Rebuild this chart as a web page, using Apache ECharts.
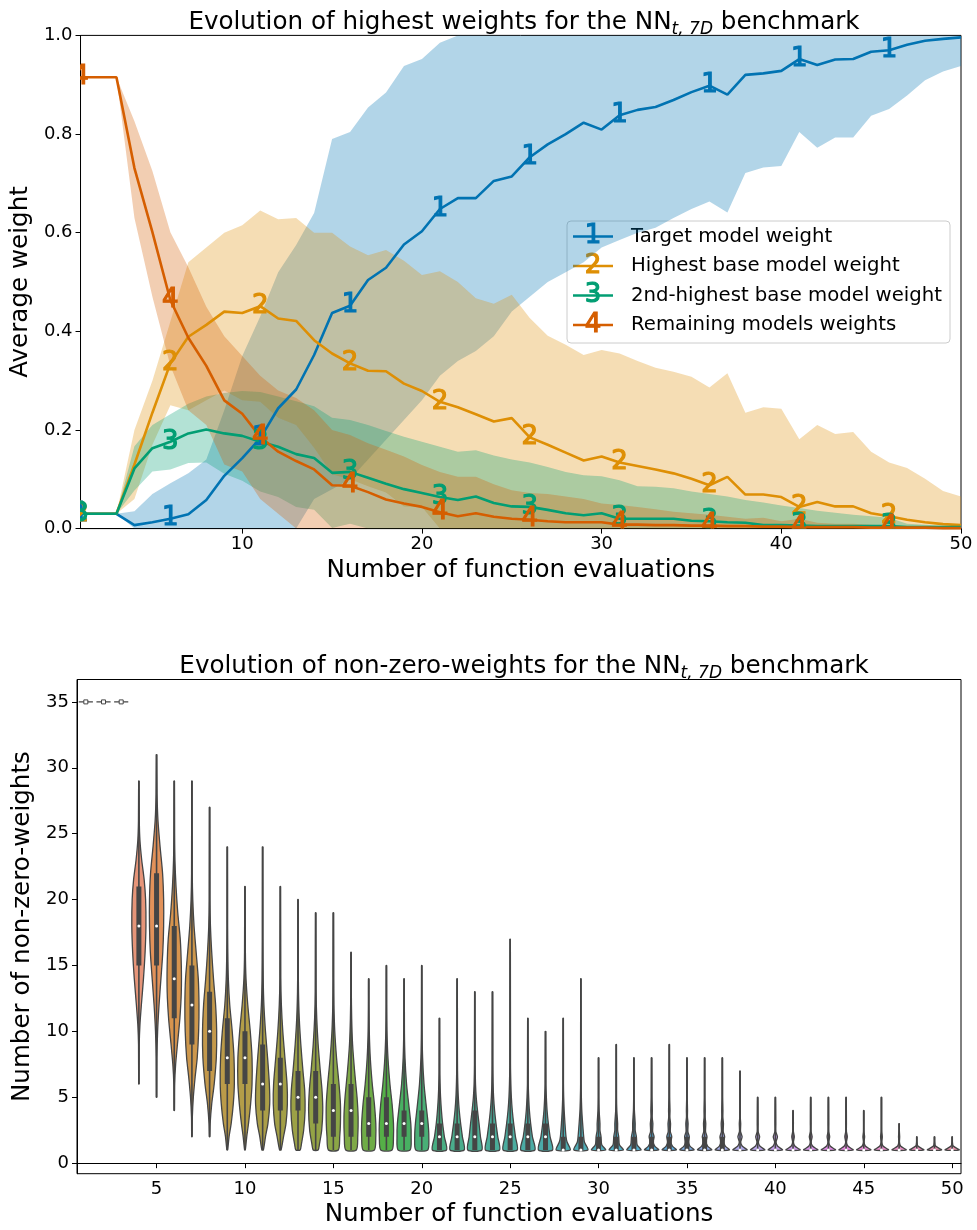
<!DOCTYPE html>
<html><head><meta charset="utf-8">
<script src="https://cdn.jsdelivr.net/npm/echarts@6/dist/echarts.min.js"></script>
<style>html,body{margin:0;padding:0;background:#fff}#c{width:977px;height:1230px}</style>
</head><body><div id="c"></div>
<script>
// ---------- DATA ----------
const evals = [1,2,3,4,5,6,7,8,9,10,11,12,13,14,15,16,17,18,19,20,21,22,23,24,25,26,27,28,29,30,31,32,33,34,35,36,37,38,39,40,41,42,43,44,45,46,47,48,49,50];
const xTicks = [10,20,30,40,50];
const yTicksTop = [0,0.2,0.4,0.6,0.8,1.0];
const yTicksBottom = [0,5,10,15,20,25,30,35];
const seriesNames = ['Target model weight','Highest base model weight','2nd-highest base model weight','Remaining models weights'];
const seriesDigits = ['1','2','3','4'];

const targetMean = [0.03,0.03,0.03,0.007,0.013,0.02,0.029,0.058,0.107,0.143,0.183,0.244,0.282,0.352,0.437,0.452,0.504,0.529,0.576,0.603,0.648,0.670,0.670,0.705,0.714,0.753,0.779,0.800,0.823,0.809,0.838,0.849,0.855,0.869,0.885,0.898,0.880,0.920,0.923,0.928,0.952,0.940,0.951,0.952,0.967,0.970,0.981,0.989,0.993,0.996];
const targetLow = [0.03,0.03,0.03,0,0,0,0,0,0,0,0,0,0,0.06,0.08,0.10,0.14,0.18,0.22,0.26,0.31,0.34,0.36,0.39,0.44,0.47,0.50,0.52,0.54,0.57,0.585,0.60,0.61,0.63,0.648,0.663,0.641,0.721,0.732,0.735,0.804,0.772,0.793,0.793,0.837,0.851,0.878,0.909,0.927,0.938];
const targetHigh = [0.03,0.03,0.03,0.035,0.07,0.092,0.112,0.14,0.24,0.35,0.43,0.52,0.575,0.64,0.79,0.804,0.854,0.884,0.938,0.952,0.985,1,1,1,1,1,1,1,1,1,1,1,1,1,1,1,1,1,1,1,1,1,1,1,1,1,1,1,1,1];

const highestMean = [0.03,0.03,0.03,0.13,0.235,0.335,0.389,0.413,0.44,0.437,0.451,0.426,0.421,0.382,0.355,0.335,0.32,0.319,0.294,0.279,0.257,0.246,0.232,0.217,0.224,0.185,0.170,0.154,0.138,0.146,0.134,0.127,0.120,0.112,0.101,0.088,0.105,0.069,0.069,0.064,0.044,0.054,0.045,0.045,0.031,0.025,0.018,0.013,0.009,0.007];
const highestLow = [0.03,0.03,0.03,0.06,0.17,0.25,0.24,0.26,0.28,0.26,0.257,0.225,0.21,0.164,0.11,0.10,0.086,0.073,0.045,0.044,0,0,0,0,0,0,0,0,0,0,0,0,0,0,0,0,0,0,0,0,0,0,0,0,0,0,0,0,0,0];
const highestHigh = [0.03,0.03,0.03,0.20,0.30,0.42,0.54,0.57,0.60,0.615,0.645,0.627,0.63,0.60,0.60,0.572,0.554,0.565,0.543,0.514,0.522,0.50,0.467,0.456,0.474,0.427,0.391,0.373,0.352,0.362,0.355,0.340,0.326,0.318,0.308,0.286,0.315,0.235,0.246,0.243,0.181,0.21,0.192,0.196,0.156,0.134,0.123,0.101,0.076,0.065];

const secondMean = [0.03,0.03,0.03,0.122,0.163,0.176,0.193,0.201,0.193,0.188,0.176,0.166,0.151,0.143,0.113,0.115,0.103,0.091,0.08,0.072,0.064,0.058,0.065,0.052,0.045,0.044,0.038,0.031,0.027,0.031,0.020,0.020,0.020,0.020,0.016,0.015,0.013,0.012,0.007,0.007,0.006,0.005,0.005,0.005,0.005,0.005,0.003,0.003,0.003,0.003];
const secondLow = [0.03,0.03,0.03,0.077,0.116,0.12,0.133,0.134,0.111,0.097,0.075,0.064,0.044,0.038,0.001,0.01,0,0,0,0,0,0,0,0,0,0,0,0,0,0,0,0,0,0,0,0,0,0,0,0,0,0,0,0,0,0,0,0,0,0];
const secondHigh = [0.03,0.03,0.03,0.167,0.21,0.232,0.253,0.268,0.275,0.279,0.277,0.268,0.258,0.248,0.225,0.22,0.21,0.198,0.186,0.176,0.166,0.156,0.159,0.148,0.14,0.134,0.125,0.115,0.108,0.106,0.098,0.086,0.085,0.082,0.075,0.070,0.065,0.058,0.053,0.047,0.042,0.036,0.032,0.028,0.025,0.022,0.01,0.008,0.006,0.005];

const remainingMean = [0.915,0.915,0.915,0.731,0.601,0.463,0.387,0.33,0.26,0.233,0.186,0.156,0.137,0.12,0.088,0.087,0.074,0.059,0.051,0.044,0.033,0.025,0.031,0.024,0.02,0.018,0.015,0.013,0.013,0.013,0.008,0.008,0.007,0.007,0.006,0.006,0.005,0.005,0.004,0.004,0.003,0.003,0.003,0.003,0.002,0.002,0.002,0.002,0.001,0.001];
const remainingLow = [0.915,0.915,0.915,0.63,0.47,0.33,0.24,0.21,0.13,0.116,0.06,0.03,0,0,0,0,0,0,0,0,0,0,0,0,0,0,0,0,0,0,0,0,0,0,0,0,0,0,0,0,0,0,0,0,0,0,0,0,0,0];
const remainingHigh = [0.915,0.915,0.915,0.826,0.725,0.601,0.53,0.45,0.39,0.35,0.31,0.28,0.265,0.24,0.20,0.19,0.173,0.16,0.146,0.129,0.115,0.105,0.105,0.09,0.078,0.072,0.07,0.065,0.06,0.051,0.048,0.044,0.039,0.034,0.031,0.028,0.024,0.02,0.022,0.015,0.02,0.012,0.01,0.01,0.008,0.006,0.004,0.003,0.002,0.002];

// violin statistics per evaluation count
const violinMin = [35,35,35,6,5,4,2,2,1,1,1,1,1,1,1,1,1,1,1,1,1,1,1,1,1,1,1,1,1,1,1,1,1,1,1,1,1,1,1,1,1,1,1,1,1,1,1,1,1,1];
const violinQ1  = [35,35,35,15,15,11,9,7,6,6,4,4,4,3,2,2,2,2,2,2,1,1,1,1,1,1,1,1,1,1,1,1,1,1,1,1,1,1,1,1,1,1,1,1,1,1,1,1,1,1];
const violinMed = [35,35,35,18,18,14,12,10,8,8,6,6,5,5,4,4,3,3,3,3,2,2,2,2,2,2,2,1,1,1,1,1,1,1,1,1,1,1,1,1,1,1,1,1,1,1,1,1,1,1];
const violinQ3  = [35,35,35,21,22,18,15,13,11,10,9,8,7,7,6,6,5,5,4,4,3,3,4,3,3,3,3,2,2,2,2,2,2,2,2,2,2,1,1,1,1,1,1,1,1,1,1,1,1,1];
const violinMax = [35,35,35,29,31,29,29,27,24,21,24,21,20,19,19,16,14,15,14,15,11,14,13,13,17,11,10,11,14,8,9,8,8,9,8,8,8,7,5,5,4,5,5,5,4,5,3,2,2,2];
// density profile: [value, relative half-width]
const violinShapes = [
 null,null,null,
 [[6,.03],[9,.05],[10.5,.15],[12,.35],[14,.65],[16,.88],[18,1],[20,.95],[21.5,.75],[23,.4],[24.5,.15],[26,.06],[29,.03]],
 [[5,.03],[8,.05],[10,.15],[12,.35],[14,.62],[16,.88],[18,1],[20,1],[22,.85],[24,.5],[26,.2],[28,.07],[31,.03]],
 [[4,.03],[6,.06],[7.5,.2],[9,.45],[11,.8],[13,1],[15,1],[17,.85],[19,.5],[21,.25],[23,.1],[25,.05],[29,.03]],
 [[2,.03],[3.5,.06],[5,.2],[6.5,.45],[8,.75],[10,.95],[12,1],[14,.9],[16,.6],[18,.3],[20,.12],[22,.05],[29,.03]],
 [[2,.03],[3,.08],[4.5,.3],[6,.65],[8,.95],[10,1],[12,.85],[14,.55],[16,.3],[18,.12],[20,.05],[27,.03]],
 [[1,.05],[2,.25],[3,.55],[4.5,.85],[6,1],[8,.95],[10,.7],[12,.35],[14,.15],[16,.07],[18,.04],[24,.03]],
 [[1,.05],[2,.25],[3,.5],[4.5,.8],[6,1],[8,1],[10,.75],[12,.4],[14,.15],[16,.06],[21,.03]],
 [[1,.1],[2,.4],[3,.75],[4.5,1],[6,.95],[8,.7],[10,.4],[12,.18],[14,.08],[17,.04],[24,.03]],
 [[1,.1],[2,.45],[3,.8],[4.5,1],[6,.95],[8,.65],[10,.35],[12,.15],[14,.06],[21,.03]],
 [[1,.3],[1.5,.5],[2.5,.8],[4,1],[5.5,.95],[7,.7],[9,.4],[11,.18],[13,.07],[15,.04],[20,.03]],
 [[1,.35],[1.5,.55],[2.5,.85],[4,1],[5.5,.9],[7,.65],[9,.35],[11,.15],[13,.06],[19,.03]],
 [[1,.7],[2,.9],[3,1],[4.5,1],[6,.8],[8,.45],[10,.2],[12,.08],[14,.05],[19,.03]],
 [[1,.75],[2,.95],[3.5,1],[5,.85],[7,.5],[9,.22],[11,.09],[13,.04],[16,.03]],
 [[1,.8],[2,1],[3,1],[4.5,.8],[6,.5],[8,.22],[10,.08],[12,.04],[14,.03]],
 [[1,.8],[2,1],[3,1],[4.5,.8],[6,.5],[8,.22],[10,.08],[12,.04],[15,.03]],
 [[1,.85],[2,1],[3,.95],[4.5,.65],[6,.35],[8,.13],[10,.05],[14,.03]],
 [[1,.85],[2,1],[3,.9],[4.5,.6],[6,.32],[8,.12],[10,.05],[15,.03]],
 [[1,1],[2,.7],[3,.45],[4,.28],[5,.16],[6,.09],[7,.05],[11,.03]],
 [[1,1],[2,.75],[3,.5],[4,.3],[5,.17],[6,.1],[7,.06],[9,.04],[14,.03]],
 [[1,1],[2,.8],[3,.6],[4,.38],[5,.2],[6,.1],[7.5,.05],[13,.03]],
 [[1,1],[2,.75],[3,.5],[4,.3],[5,.16],[6,.09],[7.5,.05],[13,.03]],
 [[1,1],[2,.75],[3,.5],[4,.3],[5,.17],[6,.1],[7.5,.05],[17,.03]],
 [[1,1],[2,.65],[3,.4],[4,.22],[5,.12],[6,.06],[11,.03]],
 [[1,1],[2,.65],[3,.4],[4,.22],[5,.12],[6,.06],[10,.03]],
 [[1,1],[1.6,.55],[2,.4],[3,.25],[4,.14],[5,.07],[6,.04],[11,.03]],
 [[1,1],[1.6,.5],[2,.4],[3,.25],[4,.13],[5,.07],[6,.04],[14,.03]],
 [[1,1],[1.4,.45],[2,.35],[2.5,.2],[3,.2],[4,.08],[5,.04],[8,.03]],
 [[1,1],[1.4,.45],[2,.35],[2.5,.2],[3,.2],[4,.08],[5,.04],[9,.03]],
 [[1,1],[1.4,.45],[2,.35],[2.5,.18],[3,.18],[4,.07],[5,.04],[8,.03]],
 [[1,1],[1.3,.45],[1.6,.22],[2,.35],[2.4,.15],[3,.18],[3.5,.08],[4,.1],[5,.05],[8,.03]],
 [[1,1],[1.3,.45],[1.6,.22],[2,.35],[2.4,.15],[3,.18],[3.5,.08],[4,.1],[5,.05],[9,.03]],
 [[1,1],[1.3,.42],[1.6,.2],[2,.33],[2.4,.13],[3,.16],[3.5,.07],[4,.08],[5,.04],[8,.03]],
 [[1,1],[1.3,.42],[1.6,.2],[2,.33],[2.4,.13],[3,.16],[3.5,.07],[4,.08],[5,.04],[8,.03]],
 [[1,1],[1.3,.42],[1.6,.2],[2,.33],[2.4,.13],[3,.16],[3.5,.07],[4,.08],[5,.04],[8,.03]],
 [[1,1],[1.3,.3],[1.6,.1],[2,.3],[2.4,.08],[3,.1],[3.5,.04],[7,.03]],
 [[1,1],[1.3,.3],[1.6,.1],[2,.28],[2.4,.06],[3,.06],[5,.03]],
 [[1,1],[1.3,.3],[1.6,.1],[2,.3],[2.4,.06],[3,.06],[5,.03]],
 [[1,1],[1.3,.25],[1.6,.06],[2,.18],[2.4,.05],[3,.05],[4,.03]],
 [[1,1],[1.3,.25],[1.6,.06],[2,.2],[2.4,.05],[3,.05],[5,.03]],
 [[1,1],[1.3,.25],[1.6,.06],[2,.18],[2.4,.05],[3,.05],[5,.03]],
 [[1,1],[1.3,.25],[1.6,.06],[2,.18],[2.4,.05],[3,.05],[5,.03]],
 [[1,1],[1.3,.22],[1.6,.05],[2,.12],[2.4,.04],[4,.03]],
 [[1,1],[1.3,.22],[1.6,.05],[2,.12],[2.4,.04],[5,.03]],
 [[1,1],[1.3,.2],[1.6,.05],[2,.08],[2.5,.03],[3,.03]],
 [[1,1],[1.3,.15],[1.6,.04],[2,.03]],
 [[1,1],[1.3,.15],[1.6,.04],[2,.03]],
 [[1,1],[1.3,.15],[1.6,.04],[2,.03]]
];

// ---------- STYLE ----------
const FONT = 'DejaVu Sans';
const lineColors = ['#0173b2','#de8f05','#029e73','#d55e00'];

// seaborn husl palette (l=.7) desaturated to .75
function huslToRgb(H,S,L){
  const m=[[3.2406,-1.5372,-0.4986],[-0.9689,1.8758,0.0415],[0.0557,-0.2040,1.0570]];
  const refU=0.19784, refV=0.46834, labE=0.008856, labK=903.3;
  const hr=H*Math.PI/180, sinH=Math.sin(hr), cosH=Math.cos(hr);
  const sub1=Math.pow(L+16,3)/1560896, sub2=sub1>labE?sub1:L/labK;
  let mc=Infinity;
  for(const [m1,m2,m3] of m){
    const top=(0.99915*m1+1.05122*m2+1.14460*m3)*sub2;
    const rb=0.86330*m3-0.17266*m2, lb=0.12949*m3-0.38848*m1;
    const bottom=(rb*sinH+lb*cosH)*sub2;
    for(const t of [0,1]){const C=L*(top-1.05122*t)/(bottom+0.17266*sinH*t); if(C>0&&C<mc) mc=C;}
  }
  const C=mc/100*S, U=cosH*C, V=sinH*C;
  const tt=(L+16)/116, varY=Math.pow(tt,3)>labE?Math.pow(tt,3):(116*tt-16)/labK;
  const vU=U/(13*L)+refU, vV=V/(13*L)+refV;
  const Y=varY, X=-(9*Y*vU)/((vU-4)*vV-vU*vV), Z=(9*Y-15*vV*Y-vV*X)/(3*vV);
  return m.map(r=>{const c=r[0]*X+r[1]*Y+r[2]*Z; const v=c<=0.0031308?12.92*c:1.055*Math.pow(c,1/2.4)-0.055; return Math.min(1,Math.max(0,v));});
}
function rgbToHls(r,g,b){const mx=Math.max(r,g,b),mn=Math.min(r,g,b),l=(mx+mn)/2;if(mx===mn)return[0,l,0];const d=mx-mn;const s=l<=0.5?d/(mx+mn):d/(2-mx-mn);let h;if(mx===r)h=(g-b)/d;else if(mx===g)h=2+(b-r)/d;else h=4+(r-g)/d;h=(h/6)%1;if(h<0)h+=1;return[h,l,s];}
function hlsToRgb(h,l,s){if(s===0)return[l,l,l];const m2=l<=0.5?l*(1+s):l+s-l*s,m1=2*l-m2;const f=hh=>{hh=((hh%1)+1)%1;if(hh<1/6)return m1+(m2-m1)*hh*6;if(hh<0.5)return m2;if(hh<2/3)return m1+(m2-m1)*(2/3-hh)*6;return m1;};return[f(h+1/3),f(h),f(h-1/3)];}
const toHex=c=>'#'+c.map(v=>Math.round(v*255).toString(16).padStart(2,'0')).join('');
const violinColors=[]; let minL=1;
evals.forEach((e,i)=>{const hue=((i/evals.length+0.01)%1)*359;const rgb=huslToRgb(hue,0.9*99,0.7*99);const [h,l,s]=rgbToHls(...rgb);minL=Math.min(minL,l);violinColors.push(toHex(hlsToRgb(h,l,s*0.75)));});
const lum=minL*0.6; const gray=toHex([lum,lum,lum]);

// ---------- SERIES ----------
const groups=[[targetMean,targetLow,targetHigh],[highestMean,highestLow,highestHigh],[secondMean,secondLow,secondHigh],[remainingMean,remainingLow,remainingHigh]];
const series=[];
// std bands: one polygon per band, built through the axis scales
groups.forEach(([mean,low,high],k)=>{
  series.push({type:'custom',name:'band'+k,xAxisIndex:0,yAxisIndex:0,clip:true,silent:true,z:1,
    data:[[evals[0],low[0]]],
    renderItem:(params,api)=>{
      const up=evals.map((t,i)=>api.coord([t,high[i]]));
      const dn=evals.map((t,i)=>api.coord([t,low[i]])).reverse();
      return {type:'polygon',shape:{points:up.concat(dn)},style:{fill:lineColors[k],opacity:0.3}};
    }});
});
groups.forEach(([mean],k)=>{
  series.push({type:'line',name:seriesNames[k],xAxisIndex:0,yAxisIndex:0,symbol:'none',z:3,
    lineStyle:{color:lineColors[k],width:2.6},data:evals.map((t,i)=>[t,mean[i]])});
});
groups.forEach(([mean],k)=>{
  series.push({type:'custom',name:'mk'+k,xAxisIndex:0,yAxisIndex:0,clip:true,z:5,silent:true,
    data:evals.map((t,i)=>[t,mean[i]]).filter((d,i)=>i%5===0),
    renderItem:(p,api)=>{const pt=api.coord([api.value(0),api.value(1)]);
      return {type:'text',x:pt[0],y:pt[1],style:{text:seriesDigits[k],fill:lineColors[k],stroke:lineColors[k],lineWidth:1.2,fontSize:26,fontFamily:FONT,align:'center',verticalAlign:'middle'}};}});
});
series.push({type:'custom',name:'violins',xAxisIndex:1,yAxisIndex:1,clip:true,z:2,
  encode:{x:0,y:[1,2,3,4,5]},
  data:evals.map((e,i)=>[i,violinMin[i],violinQ1[i],violinMed[i],violinQ3[i],violinMax[i]]),
  renderItem:(params,api)=>{
    const i=api.value(0); const cx=api.coord([i,0])[0]; const half=api.size([1,0])[0]*0.4;
    const yOf=v=>api.coord([i,v])[1];
    const mn=api.value(1),q1=api.value(2),md=api.value(3),q3=api.value(4),mx=api.value(5);
    const ch=[]; const shape=violinShapes[i];
    if(!shape){
      ch.push({type:'line',shape:{x1:cx-half,y1:yOf(md),x2:cx+half,y2:yOf(md)},style:{stroke:gray,lineWidth:1.3}});
      ch.push({type:'rect',shape:{x:cx-2,y:yOf(md)-2,width:4,height:4},style:{fill:'#fff',stroke:gray,lineWidth:1}});
    } else {
      const right=shape.map(([v,w])=>[cx+w*half,yOf(v)]);
      const left=shape.slice().reverse().map(([v,w])=>[cx-w*half,yOf(v)]);
      ch.push({type:'polygon',shape:{points:right.concat(left),smooth:0.25},style:{fill:violinColors[i],stroke:gray,lineWidth:1.3}});
      ch.push({type:'line',shape:{x1:cx,y1:yOf(mn),x2:cx,y2:yOf(mx)},style:{stroke:gray,lineWidth:1.6}});
      if(q3>q1) ch.push({type:'line',shape:{x1:cx,y1:yOf(q1),x2:cx,y2:yOf(q3)},style:{stroke:gray,lineWidth:5}});
      ch.push({type:'circle',shape:{cx:cx,cy:yOf(md),r:1.5},style:{fill:'#ffffff'}});
    }
    return {type:'group',children:ch};
  }});

// ---------- LEGEND (graphic) ----------
const legRows=[236.5,266,295.5,325];
const legendChildren=[{type:'rect',shape:{x:567,y:221,width:383,height:122,r:4},style:{fill:'rgba(255,255,255,0.8)',stroke:'#cccccc',lineWidth:1}}];
seriesNames.forEach((n,k)=>{
  legendChildren.push({type:'line',shape:{x1:573,y1:legRows[k],x2:613,y2:legRows[k]},style:{stroke:lineColors[k],lineWidth:2.6}});
  legendChildren.push({type:'text',x:593,y:legRows[k],style:{text:seriesDigits[k],fill:lineColors[k],stroke:lineColors[k],lineWidth:1.2,fontSize:26,fontFamily:FONT,align:'center',verticalAlign:'middle'}});
  legendChildren.push({type:'text',x:631,y:legRows[k],style:{text:n,fill:'#000',fontSize:19.7,fontFamily:FONT,align:'left',verticalAlign:'middle'}});
});

const axisCommon={axisLine:{show:true,lineStyle:{color:'#000',width:1}},axisTick:{show:true,length:5,lineStyle:{color:'#000',width:1}},
  axisLabel:{color:'#000',fontSize:18,fontFamily:FONT},splitLine:{show:false},nameTextStyle:{color:'#000',fontSize:24.6,fontFamily:FONT}};

const titleRich={n:{fontSize:24.6,fontFamily:FONT,fontWeight:'normal',color:'#000',lineHeight:30},s:{fontSize:17,fontFamily:FONT,fontWeight:'normal',fontStyle:'italic',color:'#000',lineHeight:17,verticalAlign:'bottom'}};

const option={
  animation:false,
  textStyle:{fontFamily:FONT},
  title:[
    {text:'{n|Evolution of highest weights for the NN}{s|t, 7D}{n| benchmark}',left:519,top:3,textAlign:'center',textStyle:{fontWeight:'normal',rich:titleRich}},
    {text:'{n|Evolution of non-zero-weights for the NN}{s|t, 7D}{n| benchmark}',left:519,top:647,textAlign:'center',textStyle:{fontWeight:'normal',rich:titleRich}}
  ],
  grid:[
    {left:77,top:35.4,width:884,height:493.2,show:true,borderColor:'#000',borderWidth:1,backgroundColor:'transparent'},
    {left:77,top:679.5,width:884,height:494.2,show:true,borderColor:'#000',borderWidth:1,backgroundColor:'transparent'}
  ],
  xAxis:[
    Object.assign({},axisCommon,{type:'value',gridIndex:0,min:1,max:50,name:'Number of function evaluations',nameLocation:'middle',nameGap:30,
      axisTick:Object.assign({},axisCommon.axisTick,{customValues:xTicks}),axisLabel:Object.assign({},axisCommon.axisLabel,{customValues:xTicks,margin:7})}),
    Object.assign({},axisCommon,{type:'category',gridIndex:1,data:evals.map(String),boundaryGap:true,name:'Number of function evaluations',nameLocation:'middle',nameGap:28,
      axisTick:Object.assign({},axisCommon.axisTick,{alignWithLabel:true,interval:(i)=>(i+1)%5===0}),
      axisLabel:Object.assign({},axisCommon.axisLabel,{interval:(i)=>(i+1)%5===0,margin:7})})
  ],
  yAxis:[
    Object.assign({},axisCommon,{type:'value',gridIndex:0,min:0,max:1,name:'Average weight',nameLocation:'middle',nameGap:38,
      axisTick:Object.assign({},axisCommon.axisTick,{customValues:yTicksTop}),
      axisLabel:Object.assign({},axisCommon.axisLabel,{customValues:yTicksTop,formatter:v=>v.toFixed(1),margin:8})}),
    Object.assign({},axisCommon,{type:'value',gridIndex:1,min:-0.8,max:36.7,name:'Number of non-zero-weights',nameLocation:'middle',nameGap:32,
      axisTick:Object.assign({},axisCommon.axisTick,{customValues:yTicksBottom}),
      axisLabel:Object.assign({},axisCommon.axisLabel,{customValues:yTicksBottom,margin:8})})
  ],
  graphic:[{type:'group',z:100,children:legendChildren}],
  series:series
};
const chart=echarts.init(document.getElementById('c'),null,{renderer:'canvas'});
chart.setOption(option);
</script></body></html>
